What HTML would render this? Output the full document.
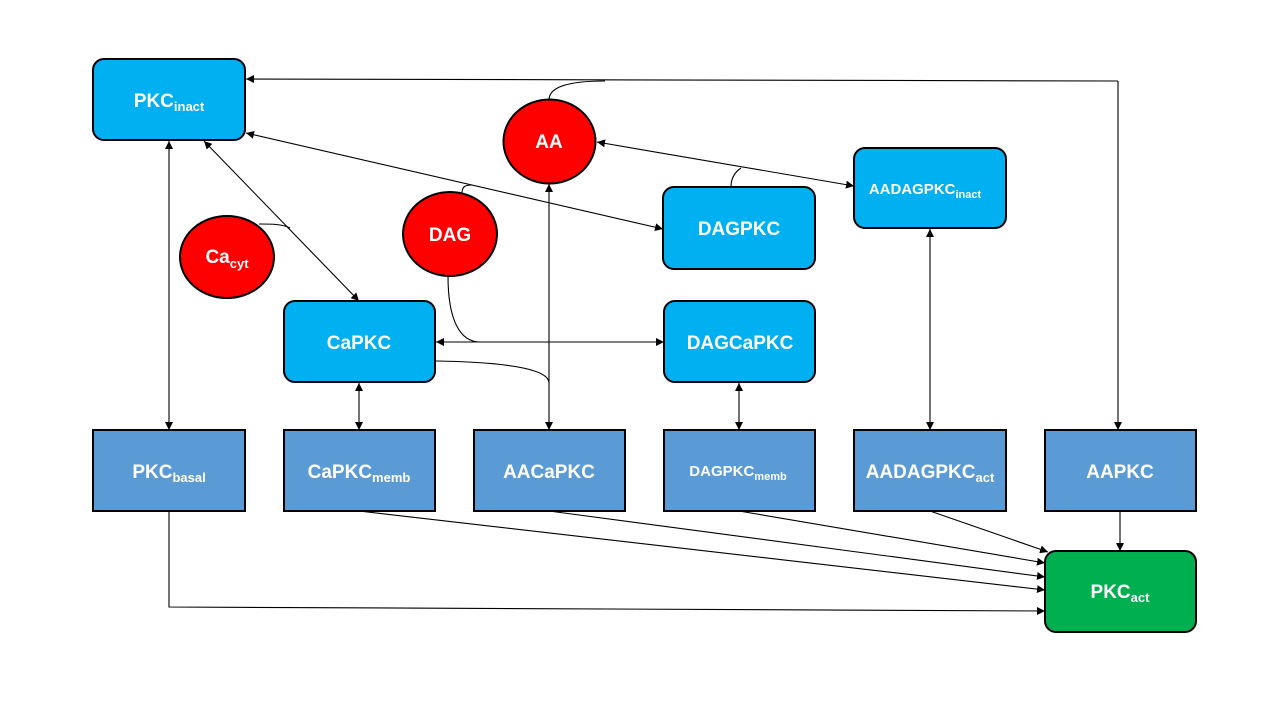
<!DOCTYPE html>
<html><head><meta charset="utf-8"><style>
html,body{margin:0;padding:0;background:#fff;}
svg{display:block;}
text{font-family:"Liberation Sans",sans-serif;font-weight:bold;fill:#fff;text-anchor:middle;}
</style></head><body>
<svg width="1280" height="720" viewBox="0 0 1280 720" xmlns="http://www.w3.org/2000/svg">
<defs>
<marker id="a" viewBox="0 0 10 10" refX="10" refY="5" markerWidth="8" markerHeight="8" orient="auto-start-reverse" markerUnits="userSpaceOnUse"><path d="M0,0 L10,5 L0,10 z" fill="#000"/></marker>
</defs>
<g stroke="#000" stroke-width="1.1" fill="none">
<!-- top line -->
<polyline points="1118,81 1118,430" marker-end="url(#a)"/>
<line x1="1118" y1="81" x2="246" y2="79" marker-end="url(#a)"/>
<path d="M549,100 C549,88 565,81 605,81"/>
<line x1="663" y1="229" x2="246" y2="133" marker-start="url(#a)" marker-end="url(#a)"/>
<path d="M462,193 C462,186 466,185 472,185"/>
<line x1="854" y1="186" x2="597" y2="142" marker-start="url(#a)" marker-end="url(#a)"/>
<path d="M731,187 C731,178 735,172 741,168"/>
<line x1="204" y1="141" x2="359" y2="301" marker-start="url(#a)" marker-end="url(#a)"/>
<path d="M259,224 C272,224 282,224 290,228"/>
<line x1="169" y1="141" x2="169" y2="430" marker-start="url(#a)" marker-end="url(#a)"/>
<line x1="549" y1="184" x2="549" y2="430" marker-start="url(#a)" marker-end="url(#a)"/>
<line x1="436" y1="342" x2="664" y2="342" marker-start="url(#a)" marker-end="url(#a)"/>
<path d="M448,276 C448,320 460,342 480,342"/>
<path d="M436,361 C500,362 549,368 549,383"/>
<line x1="359" y1="383" x2="359" y2="430" marker-start="url(#a)" marker-end="url(#a)"/>
<line x1="739" y1="383" x2="739" y2="430" marker-start="url(#a)" marker-end="url(#a)"/>
<line x1="930" y1="229" x2="930" y2="430" marker-start="url(#a)" marker-end="url(#a)"/>
<polyline points="169,511 169,607 1045,611" marker-end="url(#a)"/>
<line x1="359" y1="511" x2="1045" y2="590" marker-end="url(#a)"/>
<line x1="549" y1="511" x2="1045" y2="577" marker-end="url(#a)"/>
<line x1="739" y1="511" x2="1045" y2="563" marker-end="url(#a)"/>
<line x1="930" y1="511" x2="1048" y2="552" marker-end="url(#a)"/>
<line x1="1120" y1="511" x2="1120" y2="551" marker-end="url(#a)"/>
</g>
<g stroke="#000" stroke-width="2">
<rect x="93" y="59" width="152" height="81" rx="11" fill="#00b0f0"/>
<rect x="284" y="301" width="151" height="81" rx="11" fill="#00b0f0"/>
<rect x="663" y="187" width="152" height="82" rx="11" fill="#00b0f0"/>
<rect x="664" y="301" width="151" height="81" rx="11" fill="#00b0f0"/>
<rect x="854" y="148" width="152" height="80" rx="11" fill="#00b0f0"/>
<rect x="1045" y="551" width="151" height="81" rx="11" fill="#00b050"/>
<g fill="#5b9bd5">
<rect x="93" y="430" width="152" height="81"/>
<rect x="284" y="430" width="151" height="81"/>
<rect x="474" y="430" width="151" height="81"/>
<rect x="664" y="430" width="151" height="81"/>
<rect x="854" y="430" width="152" height="81"/>
<rect x="1045" y="430" width="151" height="81"/>
</g>
<g fill="#ff0000">
<ellipse cx="549.5" cy="141.5" rx="46" ry="42"/>
<ellipse cx="450" cy="234" rx="47" ry="42"/>
<ellipse cx="227" cy="257" rx="47" ry="41"/>
</g>
</g>
<g font-size="19">
<text x="169" y="107">PKC<tspan font-size="13" dy="4">inact</tspan></text>
<text x="549" y="148">AA</text>
<text x="450" y="241">DAG</text>
<text x="227" y="263">Ca<tspan font-size="13" dy="5">cyt</tspan></text>
<text x="359" y="349">CaPKC</text>
<text x="739" y="235">DAGPKC</text>
<text x="740" y="349">DAGCaPKC</text>
<text x="925" y="194" font-size="15">AADAGPKC<tspan font-size="11" dy="4">inact</tspan></text>
<text x="169" y="478">PKC<tspan font-size="13" dy="4">basal</tspan></text>
<text x="359" y="478">CaPKC<tspan font-size="13" dy="4">memb</tspan></text>
<text x="549" y="478">AACaPKC</text>
<text x="738" y="476" font-size="15">DAGPKC<tspan font-size="11" dy="4">memb</tspan></text>
<text x="930" y="478">AADAGPKC<tspan font-size="13" dy="4">act</tspan></text>
<text x="1120" y="478">AAPKC</text>
<text x="1120" y="598">PKC<tspan font-size="13" dy="4">act</tspan></text>
</g>
</svg>
</body></html>
